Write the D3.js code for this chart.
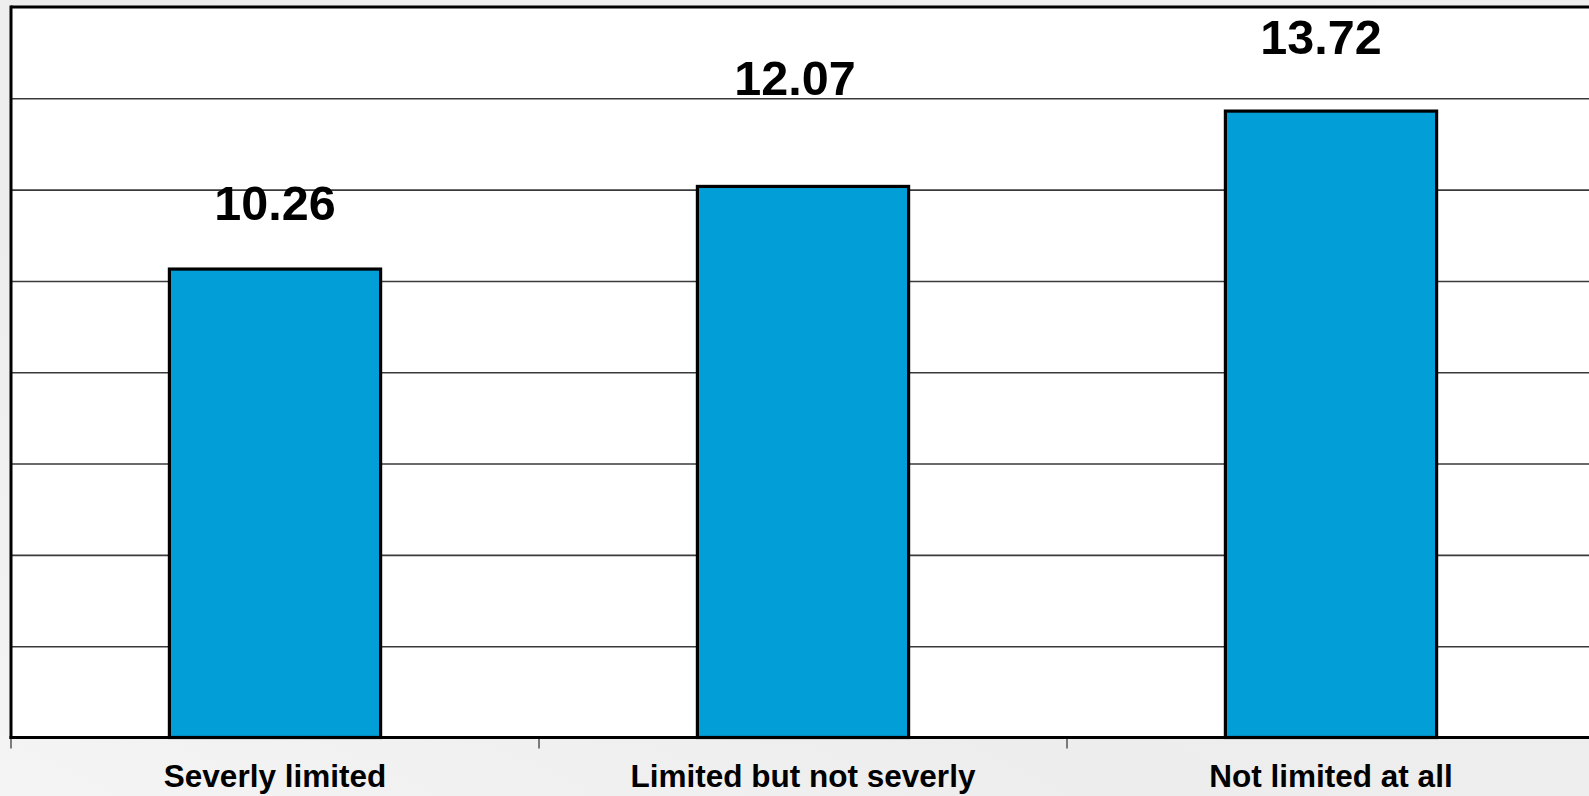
<!DOCTYPE html>
<html>
<head>
<meta charset="utf-8">
<script src="https://cdn.jsdelivr.net/npm/d3@7"></script>
<style>
  html, body { margin: 0; padding: 0; background: #efefef; overflow: hidden; }
  svg { display: block; }
</style>
</head>
<body>
<svg id="chart" width="1589" height="796"></svg>
<script>
// Chart data
const categories = ["Severly limited", "Limited but not severly", "Not limited at all"];
const values = [10.26, 12.07, 13.72];
const valueLabels = ["10.26", "12.07", "13.72"];
const yTicks = [0, 2, 4, 6, 8, 10, 12, 14, 16];

// Hand-placed label nudges (pixels) relative to each bar's top centre
const labelNudge = [
  { dx: 0, dy: -49 },
  { dx: -8, dy: -91 },
  { dx: -10, dy: -57 }
];

const W = 1589, H = 796;
const plot = { left: 11, top: 7, bottom: 737.5, right: 1595 };

const svg = d3.select("#chart");

// Slide-style soft grey backdrop
const defs = svg.append("defs");
const bg = defs.append("linearGradient").attr("id", "bg")
  .attr("x1", "0").attr("y1", "1").attr("x2", "1").attr("y2", "0");
bg.append("stop").attr("offset", "0%").attr("stop-color", "#f4f4f4");
bg.append("stop").attr("offset", "35%").attr("stop-color", "#ededed");
bg.append("stop").attr("offset", "100%").attr("stop-color", "#f0f0f0");
svg.append("rect").attr("width", W).attr("height", H).attr("fill", "url(#bg)");

const x = d3.scaleBand()
  .domain(categories)
  .range([plot.left, plot.right])
  .paddingInner(0.6)
  .paddingOuter(0.3);

const y = d3.scaleLinear()
  .domain([0, 16])
  .range([plot.bottom, plot.top]);

// Plot area
svg.append("rect")
  .attr("x", plot.left).attr("y", plot.top)
  .attr("width", plot.right - plot.left)
  .attr("height", plot.bottom - plot.top)
  .attr("fill", "#ffffff");

// Horizontal gridlines
const grid = d3.axisLeft(y)
  .tickValues(yTicks.slice(1, -1))
  .tickSize(-(plot.right - plot.left))
  .tickFormat("");
svg.append("g")
  .attr("transform", `translate(${plot.left},0)`)
  .call(grid)
  .call(g => g.select(".domain").remove())
  .call(g => g.selectAll(".tick line").attr("stroke", "#3a3a3a").attr("stroke-width", 1.6));

// Bars
const step = x.step();
svg.append("g").selectAll("rect")
  .data(values)
  .join("rect")
  .attr("x", (d, i) => x(categories[i]))
  .attr("y", d => y(d))
  .attr("width", x.bandwidth())
  .attr("height", d => y(0) - y(d))
  .attr("fill", "#029ed8")
  .attr("stroke", "#000")
  .attr("stroke-width", 3.2);

// Frame: top border and left axis
svg.append("line")
  .attr("x1", plot.left).attr("x2", plot.right)
  .attr("y1", y(16)).attr("y2", y(16))
  .attr("stroke", "#000").attr("stroke-width", 3);
svg.append("line")
  .attr("x1", plot.left).attr("x2", plot.left)
  .attr("y1", y(16) - 1.5).attr("y2", y(0) + 1.5)
  .attr("stroke", "#000").attr("stroke-width", 3);

// Category axis with boundary ticks
const boundaries = categories.map(c => x(c) - x.paddingInner() * step / 2);
const xAxis = d3.axisBottom(x).tickSize(0).tickPadding(0).tickFormat("");
svg.append("g")
  .attr("transform", `translate(0,${plot.bottom})`)
  .call(xAxis)
  .call(g => g.select(".domain").remove());

svg.append("g").selectAll("line")
  .data(boundaries)
  .join("line")
  .attr("x1", d => d).attr("x2", d => d)
  .attr("y1", plot.bottom).attr("y2", plot.bottom + 11)
  .attr("stroke", "#555").attr("stroke-width", 1.5);

svg.append("line")
  .attr("x1", plot.left - 1.5).attr("x2", plot.right)
  .attr("y1", plot.bottom).attr("y2", plot.bottom)
  .attr("stroke", "#000").attr("stroke-width", 3);

// Category labels
svg.append("g").selectAll("text")
  .data(categories)
  .join("text")
  .attr("x", d => x(d) + x.bandwidth() / 2)
  .attr("y", 787)
  .attr("text-anchor", "middle")
  .attr("font-family", "'Liberation Sans', Arial, sans-serif")
  .attr("font-weight", "bold")
  .attr("font-size", 31.5)
  .attr("fill", "#000")
  .text(d => d);

// Value labels
svg.append("g").selectAll("text")
  .data(values)
  .join("text")
  .attr("x", (d, i) => x(categories[i]) + x.bandwidth() / 2 + labelNudge[i].dx)
  .attr("y", (d, i) => y(d) + labelNudge[i].dy)
  .attr("text-anchor", "middle")
  .attr("font-family", "'Liberation Sans', Arial, sans-serif")
  .attr("font-weight", "bold")
  .attr("font-size", 48.5)
  .attr("fill", "#000")
  .text((d, i) => valueLabels[i]);
</script>
</body>
</html>
